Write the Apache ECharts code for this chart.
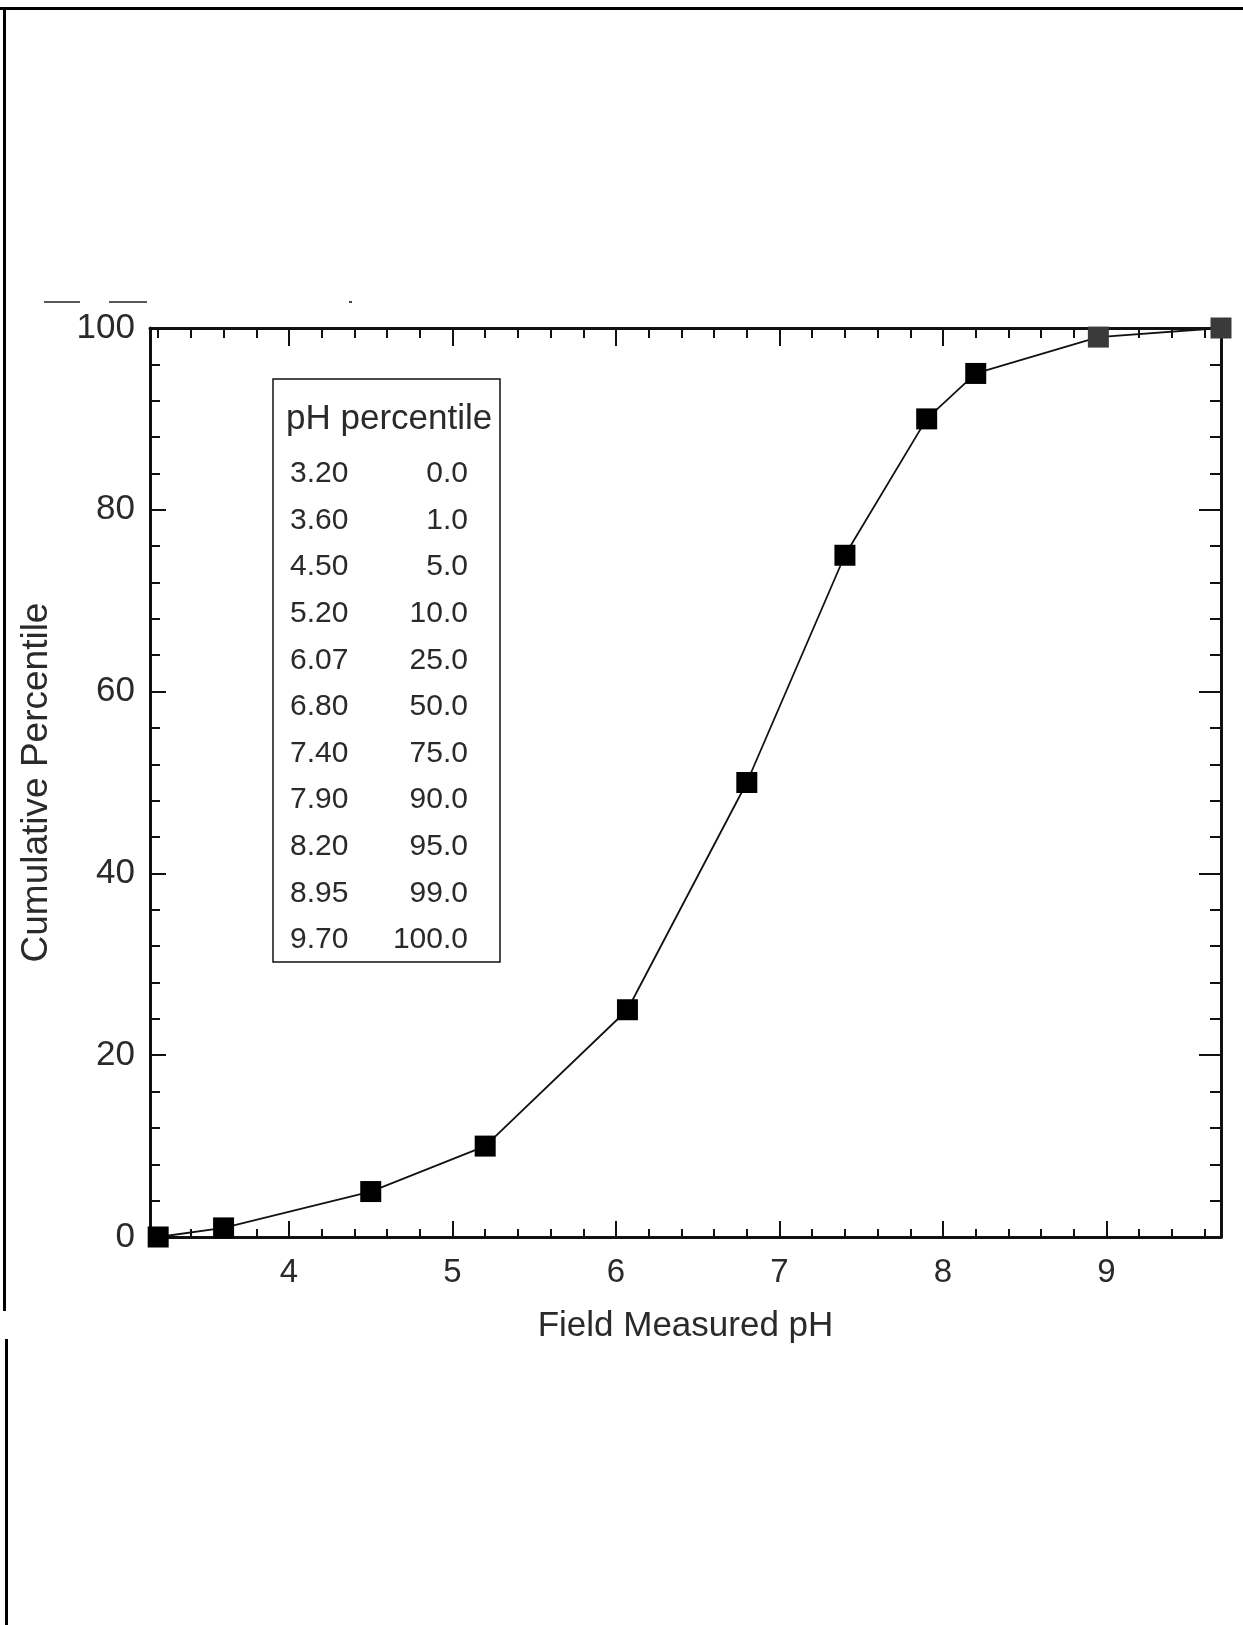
<!DOCTYPE html>
<html>
<head>
<meta charset="utf-8">
<script src="https://cdn.jsdelivr.net/npm/echarts@6/dist/echarts.min.js"></script>
<style>
  html, body { margin: 0; padding: 0; background: #fff; }
  #chart { width: 1243px; height: 1625px; }
</style>
</head>
<body>
<div id="chart"></div>
<script>
// Cumulative distribution of field-measured pH
const phValues    = [3.20, 3.60, 4.50, 5.20, 6.07, 6.80, 7.40, 7.90, 8.20, 8.95, 9.70];
const percentiles = [0.0, 1.0, 5.0, 10.0, 25.0, 50.0, 75.0, 90.0, 95.0, 99.0, 100.0];
const xTickLabels = [4, 5, 6, 7, 8, 9];
const yTickLabels = [0, 20, 40, 60, 80, 100];
const tableHeader = 'pH percentile';
const xTitle = 'Field Measured pH';
const yTitle = 'Cumulative Percentile';

const X_MIN = 3.15, X_MAX = 9.7;
const FONT = '"Liberation Sans", Arial, sans-serif';
const INK = '#111';
const TEXT = '#2a2a2a';

// minor x ticks every 0.2 pH, skipping the whole numbers
const minorX = [];
for (let k = 16; k <= 48; k++) {
  if (k % 5 !== 0) minorX.push(Math.round((k / 5) * 10) / 10);
}

const chart = echarts.init(document.getElementById('chart'), null, { renderer: 'canvas' });

const axisLine = { show: true, lineStyle: { color: INK, width: 3 } };
const tickStyle = { color: INK, width: 2 };
const baseX = { type: 'value', min: X_MIN, max: X_MAX, splitLine: { show: false }, gridIndex: 0 };
const baseY = { type: 'value', min: 0, max: 100, interval: 20, splitLine: { show: false }, minorSplitLine: { show: false } };

// table rows built from the data arrays
const tableTop = 379, tableLeft = 273, rowStep = 46.6;
const tableChildren = [
  { type: 'rect', shape: { x: tableLeft, y: tableTop, width: 227, height: 583 },
    style: { fill: 'none', stroke: INK, lineWidth: 1.5 } },
  { type: 'text', x: 286, y: 419,
    style: { text: tableHeader, font: '35px ' + FONT, fill: TEXT, textVerticalAlign: 'middle', textAlign: 'left' } }
];
phValues.forEach((ph, i) => {
  const y = 474 + i * rowStep;
  tableChildren.push({ type: 'text', x: 290, y: y,
    style: { text: ph.toFixed(2), font: '30px ' + FONT, fill: TEXT, textAlign: 'left', textVerticalAlign: 'middle' } });
  tableChildren.push({ type: 'text', x: 468, y: y,
    style: { text: percentiles[i].toFixed(1), font: '30px ' + FONT, fill: TEXT, textAlign: 'right', textVerticalAlign: 'middle' } });
});

const option = {
  animation: false,
  backgroundColor: '#fff',
  grid: { left: 150, top: 328, width: 1071, height: 909, containLabel: false },
  xAxis: [
    Object.assign({}, baseX, {
      position: 'bottom',
      axisLine: axisLine,
      axisTick: { show: true, inside: true, length: 16, customValues: xTickLabels, lineStyle: tickStyle },
      axisLabel: { customValues: xTickLabels, margin: 19, fontSize: 33, color: TEXT, fontFamily: FONT },
      name: xTitle, nameLocation: 'middle', nameGap: 72,
      nameTextStyle: { fontSize: 35, color: TEXT, fontFamily: FONT }
    }),
    Object.assign({}, baseX, {
      position: 'bottom',
      axisLine: { show: false },
      axisTick: { show: true, inside: true, length: 8, customValues: minorX, lineStyle: tickStyle },
      axisLabel: { show: false }
    }),
    Object.assign({}, baseX, {
      position: 'top',
      axisLine: axisLine,
      axisTick: { show: true, inside: true, length: 18, customValues: xTickLabels, lineStyle: tickStyle },
      axisLabel: { show: false }
    }),
    Object.assign({}, baseX, {
      position: 'top',
      axisLine: { show: false },
      axisTick: { show: true, inside: true, length: 10, customValues: minorX, lineStyle: tickStyle },
      axisLabel: { show: false }
    })
  ],
  yAxis: [
    Object.assign({}, baseY, {
      position: 'left',
      axisLine: axisLine,
      axisTick: { show: true, inside: true, length: 16, lineStyle: tickStyle },
      minorTick: { show: true, splitNumber: 5, length: 10, lineStyle: tickStyle },
      axisLabel: { margin: 15, fontSize: 35, color: TEXT, fontFamily: FONT,
        formatter: v => (yTickLabels.indexOf(v) >= 0 ? String(v) : '') },
      name: yTitle, nameLocation: 'middle', nameGap: 95, nameRotate: 90,
      nameTextStyle: { fontSize: 37, color: TEXT, fontFamily: FONT }
    }),
    Object.assign({}, baseY, {
      position: 'right',
      axisLine: axisLine,
      axisTick: { show: true, inside: true, length: 22, lineStyle: tickStyle },
      minorTick: { show: true, splitNumber: 5, length: 11, lineStyle: tickStyle },
      axisLabel: { show: false }
    })
  ],
  series: [{
    type: 'line',
    xAxisIndex: 0,
    yAxisIndex: 0,
    clip: false,
    data: phValues.map((ph, i) => {
      const d = { value: [ph, percentiles[i]] };
      if (percentiles[i] >= 99) d.itemStyle = { color: '#3a3a3a' };
      return d;
    }),
    symbol: 'rect',
    symbolSize: 21,
    itemStyle: { color: '#000' },
    lineStyle: { color: INK, width: 1.8 },
    z: 5
  }],
  graphic: [
    // page frame
    { type: 'rect', shape: { x: 0, y: 7, width: 1243, height: 3 }, style: { fill: '#000' } },
    { type: 'rect', shape: { x: 3, y: 7, width: 3, height: 1304 }, style: { fill: '#000' } },
    { type: 'rect', shape: { x: 5, y: 1339, width: 3, height: 286 }, style: { fill: '#000' } },
    // short rules above the plot
    { type: 'line', shape: { x1: 44, y1: 302, x2: 80, y2: 302 }, style: { stroke: '#222', lineWidth: 1.5 } },
    { type: 'line', shape: { x1: 109, y1: 302, x2: 147, y2: 302 }, style: { stroke: '#222', lineWidth: 1.5 } },
    { type: 'rect', shape: { x: 349, y: 301, width: 3, height: 2 }, style: { fill: '#444' } },
    // pH / percentile table
    { type: 'group', children: tableChildren }
  ]
};

chart.setOption(option);
</script>
</body>
</html>
